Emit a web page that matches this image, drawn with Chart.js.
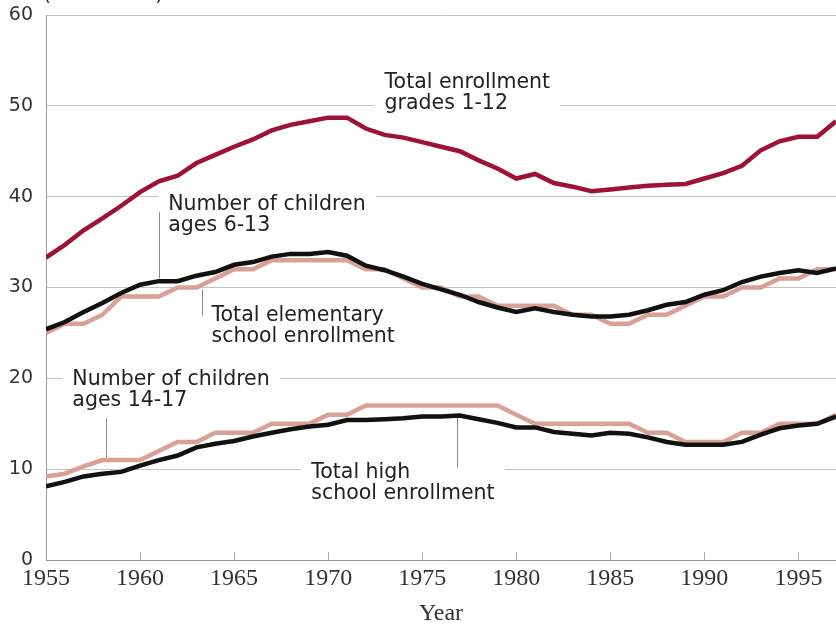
<!DOCTYPE html>
<html>
<head>
<meta charset="utf-8">
<script src="https://cdn.jsdelivr.net/npm/chart.js"></script>
<style>
  body { margin: 0; background: #fff; }
  #wrap { width: 836px; height: 627px; }
</style>
</head>
<body>
<div id="wrap"><canvas id="grafico"></canvas></div>
<script>
// school enrollment vs. children of school age, in millions

const years = [1955, 1956, 1957, 1958, 1959, 1960, 1961, 1962, 1963, 1964,
    1965, 1966, 1967, 1968, 1969, 1970, 1971, 1972, 1973, 1974,
    1975, 1976, 1977, 1978, 1979, 1980, 1981, 1982, 1983, 1984,
    1985, 1986, 1987, 1988, 1989, 1990, 1991, 1992, 1993, 1994,
    1995, 1996, 1997]

const totalEnrollment = [33.3, 34.7, 36.3, 37.6, 39.0, 40.5, 41.7, 42.3, 43.7, 44.6,
    45.5, 46.3, 47.3, 47.9, 48.3, 48.7, 48.7, 47.5, 46.8, 46.5,
    46.0, 45.5, 45.0, 44.0, 43.1, 42.0, 42.5, 41.5, 41.1, 40.6,
    40.8, 41.0, 41.2, 41.3, 41.4, 42.0, 42.6, 43.4, 45.1, 46.1,
    46.6, 46.6, 48.3]

const children6to13 = [25.4, 26.2, 27.3, 28.3, 29.4, 30.3, 30.7, 30.7, 31.3, 31.7,
    32.5, 32.8, 33.4, 33.7, 33.7, 33.9, 33.5, 32.4, 31.9, 31.2,
    30.4, 29.8, 29.2, 28.4, 27.8, 27.3, 27.7, 27.3, 27.0, 26.8,
    26.8, 27.0, 27.5, 28.1, 28.4, 29.2, 29.7, 30.6, 31.2, 31.6,
    31.9, 31.6, 32.1]

const elementaryEnrollment = [25, 26, 26, 27, 29, 29, 29, 30, 30, 31,
    32, 32, 33, 33, 33, 33, 33, 32, 32, 31,
    30, 30, 29, 29, 28, 28, 28, 28, 27, 27,
    26, 26, 27, 27, 28, 29, 29, 30, 30, 31,
    31, 32, 32]

const children14to17 = [9.2, 9.5, 10.3, 11, 11, 11, 12, 13, 13, 14,
    14, 14, 15, 15, 15, 16, 16, 17, 17, 17,
    17, 17, 17, 17, 17, 16, 15, 15, 15, 15,
    15, 15, 14, 14, 13, 13, 13, 14, 14, 15,
    15, 15, 16]

const highSchoolEnrollment = [8.1, 8.6, 9.2, 9.5, 9.7, 10.4, 11.0, 11.5, 12.4, 12.8,
    13.1, 13.6, 14.0, 14.4, 14.7, 14.9, 15.4, 15.4, 15.5, 15.6,
    15.8, 15.8, 15.9, 15.5, 15.1, 14.6, 14.6, 14.1, 13.9, 13.7,
    14.0, 13.9, 13.5, 13.0, 12.7, 12.7, 12.7, 13.0, 13.8, 14.5,
    14.8, 15.0, 15.8]

const xTicks = [1955, 1960, 1965, 1970, 1975, 1980, 1985, 1990, 1995]
const yTicks = [0, 10, 20, 30, 40, 50, 60]

// labels (left edge, centre of first line) and leader lines, in data units
const labels = [
    { x: 1973.0, y: 52.6, lines: ['Total enrollment', 'grades 1-12'] },
    { x: 1961.5, y: 39.1, lines: ['Number of children', 'ages 6-13'] },
    { x: 1963.8, y: 26.9, lines: ['Total elementary', 'school enrollment'] },
    { x: 1956.4, y: 19.9, lines: ['Number of children', 'ages 14-17'] },
    { x: 1969.1, y: 9.6, lines: ['Total high', 'school enrollment'] },
]

const leaders = [
    { x: 1961.0, from: 38.3, to: 31.0 },
    { x: 1963.3, from: 29.8, to: 26.9 },
    { x: 1958.2, from: 15.6, to: 11.3 },
    { x: 1976.85, from: 15.7, to: 10.2 },
]

function serie(values, color) {
    return {
        data: years.map((yr, i) => ({ x: yr, y: values[i] })),
        borderColor: color,
        borderWidth: 4.5,
        pointRadius: 0,
        tension: 0,
        fill: false,
    }
}

const annotations = {
    id: 'annotations',
    beforeDatasetsDraw(chart) {
        const { ctx, scales: { x, y } } = chart
        const lineH = 21
        ctx.save()
        ctx.font = '20.5px "DejaVu Sans"'
        ctx.textBaseline = 'middle'

        labels.forEach(l => {
            const left = x.getPixelForValue(l.x)
            const top = y.getPixelForValue(l.y)
            const w = Math.max(...l.lines.map(t => ctx.measureText(t).width))
            ctx.fillStyle = '#fff'
            ctx.fillRect(left - 10, top - 11, w + 20, lineH * l.lines.length + 1)
            ctx.fillStyle = '#222'
            l.lines.forEach((t, i) => ctx.fillText(t, left, top + i * lineH))
        })

        ctx.strokeStyle = '#888'
        ctx.lineWidth = 1
        leaders.forEach(g => {
            const px = Math.round(x.getPixelForValue(g.x)) + 0.5
            ctx.beginPath()
            ctx.moveTo(px, y.getPixelForValue(g.from))
            ctx.lineTo(px, y.getPixelForValue(g.to))
            ctx.stroke()
        })

        // small tick marks pointing up into the plot
        ctx.strokeStyle = '#aaa'
        xTicks.slice(1).forEach(v => {
            const px = Math.round(x.getPixelForValue(v)) + 0.5
            ctx.beginPath()
            ctx.moveTo(px, y.bottom)
            ctx.lineTo(px, y.bottom - 8)
            ctx.stroke()
        })

        // unit note, cut off by the top edge
        ctx.fillStyle = '#333'
        ctx.textBaseline = 'alphabetic'
        ctx.fillText('(in millions)', 43, 0)
        ctx.restore()
    }
}

new Chart(document.getElementById('grafico'), {
    type: 'line',
    data: {
        datasets: [
            serie(totalEnrollment, '#9e1238'),
            serie(children6to13, '#111111'),
            serie(elementaryEnrollment, '#d9a096'),
            serie(highSchoolEnrollment, '#111111'),
            serie(children14to17, '#d9a096'),
        ]
    },
    options: {
        responsive: true,
        maintainAspectRatio: false,
        animation: false,
        layout: { padding: { top: 15, right: 0, bottom: 0, left: 0 } },
        plugins: { legend: { display: false }, tooltip: { enabled: false } },
        scales: {
            x: {
                type: 'linear',
                min: 1955,
                max: 1997,
                afterBuildTicks: s => { s.ticks = xTicks.map(v => ({ value: v })) },
                afterFit: s => { s.height = 67; s.paddingLeft = 0; s.paddingRight = 0 },
                grid: { drawOnChartArea: false, drawTicks: false },
                border: { color: '#999' },
                ticks: {
                    padding: 4, color: '#333', maxRotation: 0,
                    font: { family: 'Liberation Serif', size: 24 },
                    callback: v => String(v),
                },
                title: {
                    display: true,
                    text: 'Year',
                    color: '#333',
                    font: { family: 'Liberation Serif', size: 24, lineHeight: 1 },
                    padding: { top: 0, bottom: 1 },
                },
            },
            y: {
                min: 0,
                max: 60,
                afterBuildTicks: s => { s.ticks = yTicks.map(v => ({ value: v })) },
                afterFit: s => { s.width = 46; s.paddingTop = 0; s.paddingBottom = 0 },
                grid: { color: '#c4c4c4', drawTicks: false },
                border: { color: '#999' },
                ticks: { padding: 13, color: '#333', font: { family: 'DejaVu Sans', size: 19 } },
            }
        }
    },
    plugins: [annotations]
})
</script>
</body>
</html>
